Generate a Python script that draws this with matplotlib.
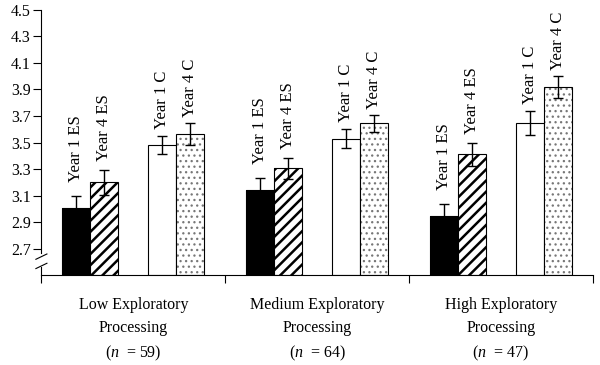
import matplotlib
matplotlib.use("Agg")
import matplotlib.pyplot as plt
import numpy as np

plt.rcParams['font.family'] = ['Liberation Serif', 'DejaVu Serif']
plt.rcParams['mathtext.fontset'] = 'custom'
plt.rcParams['mathtext.it'] = 'Liberation Serif:italic'
plt.rcParams['mathtext.rm'] = 'Liberation Serif'

# data
groups = ['Low Exploratory\nProcessing\n($n$  = 59)',
          'Medium Exploratory\nProcessing\n($n$  = 64)',
          'High Exploratory\nProcessing\n($n$  = 47)']
series = ['Year 1 ES', 'Year 4 ES', 'Year 1 C', 'Year 4 C']
year1_es = [3.01, 3.14, 2.945]
year4_es = [3.20, 3.305, 3.41]
year1_c = [3.48, 3.53, 3.65]
year4_c = [3.565, 3.645, 3.92]
err_year1_es = [0.09, 0.09, 0.09]
err_year4_es = [0.095, 0.08, 0.085]
err_year1_c = [0.07, 0.07, 0.09]
err_year4_c = [0.085, 0.065, 0.085]
yticks = [2.7, 2.9, 3.1, 3.3, 3.5, 3.7, 3.9, 4.1, 4.3, 4.5]

values = [year1_es, year4_es, year1_c, year4_c]
errors = [err_year1_es, err_year4_es, err_year1_c, err_year4_c]
offsets = [0.114, 0.266, 0.582, 0.734]   # left edge of each bar within a group
width = 0.152
faces = ['black', 'white', 'white', 'white']
hatches = [None, '///', None, '...']
hatch_col = ['black', 'black', 'black', '#777777']
hatch_lw = [1.0, 1.8, 1.0, 0.9]
label_gap = [14, 9, 7, 6]   # px between error bar and label

fig = plt.figure(figsize=(6, 3.65), dpi=100)
ax = fig.add_axes([0.069, 0.246, 0.919, 0.727])

x = np.arange(len(groups))
for i in range(len(series)):
    xs = x + offsets[i] + width / 2
    h = np.array(values[i]) - 2.5
    with plt.rc_context({'hatch.linewidth': hatch_lw[i]}):
        ax.bar(xs, h, width, bottom=2.5, color=faces[i], edgecolor=hatch_col[i],
               linewidth=0, hatch=hatches[i], zorder=2)
    ax.bar(xs, h, width, bottom=2.5, fill=False, edgecolor='black',
           linewidth=0.8, zorder=2)
    ax.errorbar(xs, values[i], yerr=errors[i], fmt='none', ecolor='black',
                elinewidth=1.0, capsize=3.5, capthick=1.0, zorder=3)
    for xx, v, e in zip(xs, values[i], errors[i]):
        ax.annotate(series[i], (xx, v + e), xytext=(0, label_gap[i] * 0.72),
                    textcoords='offset points', rotation=90, ha='center',
                    va='bottom', fontsize=12)

ax.set_xlim(0, 3)
ax.set_ylim(2.5, 4.5)
ax.set_yticks(yticks)
ax.set_yticklabels(['%.1f' % t for t in yticks], fontsize=11.5)
ax.set_xticks([0, 1, 2, 3])
ax.set_xticklabels([])
ax.set_xticks(x + 0.5, minor=True)
ax.set_xticklabels(groups, minor=True, fontsize=11.5, linespacing=1.55)
ax.tick_params(axis='x', which='minor', length=0, pad=16)
ax.tick_params(axis='x', which='major', length=5.5, width=0.8)
ax.tick_params(axis='y', length=5.5, width=0.8, pad=2)

for s in ['top', 'right']:
    ax.spines[s].set_visible(False)
ax.spines['left'].set_bounds(2.665, 4.5)
ax.spines['bottom'].set_linewidth(0.8)
ax.spines['left'].set_linewidth(0.8)

# axis break
ax.plot([0, 0], [2.5, 2.565], color='black', lw=0.8, clip_on=False)
for yb in [2.635, 2.565]:
    ax.plot([-0.03, 0.03], [yb - 0.015, yb + 0.025], color='black', lw=0.8,
            clip_on=False)

fig.savefig('out.png', dpi=100)
